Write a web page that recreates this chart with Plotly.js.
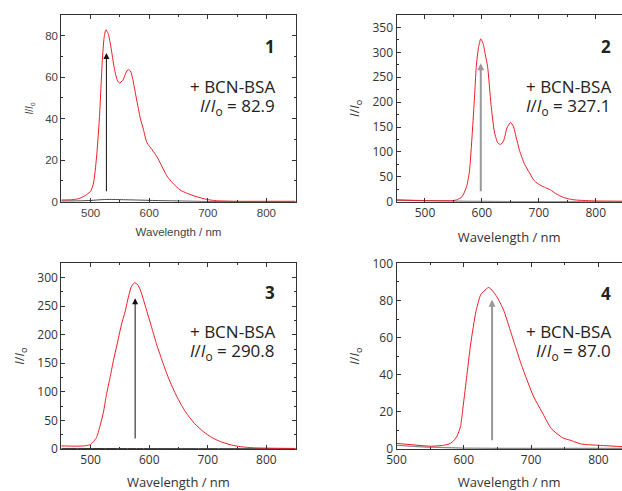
<!DOCTYPE html>
<html>
<head>
<meta charset="utf-8">
<script src="https://cdn.plot.ly/plotly-3.0.1.min.js"></script>
<style>html,body{margin:0;padding:0;background:#fff;overflow:hidden}</style>
</head>
<body>
<div id="chart" style="width:622px;height:491px"></div>
<script>
// ---------- data ----------
// Panel 1
const wl1Red = [450,470,480,490,495,500,505,510,515,520,523,526,530,535,540,545,549,555,560,564,568,572,578,585,590,596,605,613,620,630,640,653,665,680,698,710,720,750,800,850];
const i1Red  = [0.8,1.0,1.5,2.8,3.8,5,9,21,40,68,79,82.9,81,74,65,59,57.2,58.5,62,63.7,63,59,50,40,35,28.5,25,21.7,18,12.5,9,5.6,4,2.5,1.1,0.6,0.4,0.2,0.2,0.2];
const wl1Base = [450,480,500,520,535,550,580,620,660,700,850];
const i1Base  = [0.3,0.4,0.6,1.0,1.1,1.0,0.8,0.5,0.3,0.1,0.05];
// Panel 2
const wl2Red = [450,480,520,545,555,565,573,578,583,587,590,594,598,602,606,610,616,622,628,633,638,644,650,655,660,666,675,684,692,702,712,720,730,743,755,766,800,850];
const i2Red  = [3.5,2.5,1.8,2,3.5,10,30,60,137,210,270,310,327.1,318,295,271,195,140,118,115,122,148,159,152,130,103,75,57,42,33.5,28,24,16,8.7,5,3.3,1.5,1];
const wl2Base = [450,500,550,600,700,850];
const i2Base  = [3,2,1,0.5,0.3,0.3];
// Panel 3
const wl3Red = [450,470,490,500,505,510,516,522,527,533,539,545,552,559,565,570,575,580,585,590,596,605,613,623,633,647,662,677,693,707,722,740,756,780,800,850];
const i3Red  = [5.5,5,5.5,8,13,20,40,65,95,124,155,182,215,241,268,285,290.8,288,278,262,241,210,182,152,124,92,65,45,30,20,12.8,7,4,2,1.5,1];
const wl3Base = [450,600,850];
const i3Base  = [1,0.7,0.5];
// Panel 4
const wl4Red = [500,520,550,570,580,585,590,595,598,604,610,618,625,630,637,643,649,655,660,668,676,684,693,704,716,730,747,760,774,800,835,850];
const i4Red  = [3,2.4,1.5,2,3,4.5,7,12,20,38,56,74,83,85,87,85,82,78,74,65,56,47,38,28,20,11,6,4.5,2.7,2,1.3,1];
const wl4Base = [500,550,600,700,850];
const i4Base  = [2,1,0.5,0.3,0.3];
// arrows: [x, yStart, yEnd]
const arrow1 = [527, 4.3, 71.7];
const arrow2 = [598, 18, 278];
const arrow3 = [576, 15.8, 264];
const arrow4 = [642, 3.9, 80.4];
// labels
const panelLabels = ["1","2","3","4"];
const ratios = ["82.9","327.1","290.8","87.0"];
const reagent = "+ BCN-BSA";
const xTitle = "Wavelength / nm";
const yTitle = "<i>I</i>/<i>I</i><sub>o</sub>";

// ---------- traces ----------
const RED = "#ee1c25";
function line(x, y, xa, ya, color, w) {
  return {x: x, y: y, xaxis: xa, yaxis: ya, type: "scatter", mode: "lines",
          line: {color: color, width: w, shape: "spline", smoothing: 0.6},
          hoverinfo: "skip", showlegend: false};
}
const traces = [
  line(wl1Base, i1Base, "x", "y", "#444", 1),
  line(wl1Red, i1Red, "x", "y", RED, 1),
  line(wl2Base, i2Base, "x2", "y2", "#777", 1.2),
  line(wl2Red, i2Red, "x2", "y2", RED, 1),
  line(wl3Base, i3Base, "x3", "y3", "#333", 1),
  line(wl3Red, i3Red, "x3", "y3", RED, 1),
  line(wl4Base, i4Base, "x4", "y4", "#888", 1.2),
  line(wl4Red, i4Red, "x4", "y4", RED, 1)
];

// ---------- layout ----------
const W = 622, H = 491;
const px = v => v / W, py = v => 1 - v / H;
const fA = {family: "Liberation Sans, Arial, sans-serif", size: 11.5, color: "#444"};
const fB = {family: "Open Sans, sans-serif", size: 12, color: "#333"};

function xax(dom, range, font, titleSize, standoff, mirror) {
  return {domain: dom, range: range, dtick: 100, tick0: 0, ticks: "inside", ticklen: 4,
    tickcolor: "#333", tickwidth: 1, showline: true, linecolor: "#333", linewidth: 1,
    mirror: mirror, showgrid: false, zeroline: false, tickfont: font,
    minor: {dtick: 50, tick0: 0, ticks: "inside", ticklen: 2, tickcolor: "#333"},
    title: {text: xTitle, font: {family: font.family, size: titleSize, color: font.color}, standoff: standoff},
    fixedrange: true};
}
function yax(dom, range, dt, mdt, font, titleSize, standoff, mirror, anchor) {
  return {domain: dom, range: range, dtick: dt, tick0: 0, ticks: "inside", ticklen: 4,
    tickcolor: "#333", tickwidth: 1, showline: true, linecolor: "#333", linewidth: 1,
    mirror: mirror, showgrid: false, zeroline: false, tickfont: font, anchor: anchor,
    minor: {dtick: mdt, tick0: 0, ticks: "inside", ticklen: 2, tickcolor: "#333"},
    title: {text: yTitle, font: {family: font.family, size: titleSize, color: font.color}, standoff: standoff},
    fixedrange: true};
}
const dx1 = [px(61.3), px(295.7)], dx2 = [px(396.5), 1];
const dyT = [py(201.7), py(15)], dyB = [py(449), py(263.3)];

const layout = {
  width: W, height: H, margin: {l: 0, r: 0, t: 0, b: 0},
  paper_bgcolor: "#fff", plot_bgcolor: "#fff", showlegend: false,
  xaxis:  Object.assign(xax(dx1, [450, 850], fA, 11.5, 10, "ticks"), {anchor: "y"}),
  yaxis:  yax(dyT, [0, 90], 20, 10, fA, 10, 9, "ticks", "x"),
  xaxis2: Object.assign(xax(dx2, [450, 846], fB, 13, 12, "ticks"), {anchor: "y2"}),
  yaxis2: yax(dyT, [0, 375], 50, 25, fB, 13, 9, false, "x2"),
  xaxis3: Object.assign(xax(dx1, [450, 850], fB, 13, 17, "ticks"), {anchor: "y3"}),
  yaxis3: yax(dyB, [0, 325], 50, 25, fB, 13, 9, "ticks", "x3"),
  xaxis4: Object.assign(xax(dx2, [500, 835], fB, 13, 17, "ticks"), {anchor: "y4"}),
  yaxis4: yax(dyB, [0, 100], 20, 10, fB, 13, 9, false, "x4"),
  annotations: []
};

const arrows = [[arrow1, "x", "y", "#111", 1], [arrow2, "x2", "y2", "#999", 2],
                [arrow3, "x3", "y3", "#111", 1], [arrow4, "x4", "y4", "#999", 2]];
arrows.forEach(a => {
  layout.annotations.push({xref: a[1], yref: a[2], axref: a[1], ayref: a[2],
    x: a[0][0], y: a[0][2], ax: a[0][0], ay: a[0][1], text: "", showarrow: true,
    arrowhead: 2, arrowsize: a[4] > 1 ? 0.7 : 1.2, arrowwidth: a[4], arrowcolor: a[3]});
});

const txtFont = {family: "Open Sans, sans-serif", size: 17, color: "#222"};
const lab = [
  {r: 277, yn: 47, yb: 86, yv: 106},
  {r: 613, yn: 46, yb: 86, yv: 106},
  {r: 277, yn: 292, yb: 331, yv: 351},
  {r: 613, yn: 293, yb: 331, yv: 351}
];
lab.forEach((L, k) => {
  layout.annotations.push({xref: "paper", yref: "paper", x: px(L.r), y: py(L.yn), xanchor: "right", yanchor: "middle",
    text: "<b>" + panelLabels[k] + "</b>", showarrow: false, font: txtFont});
  layout.annotations.push({xref: "paper", yref: "paper", x: px(L.r), y: py(L.yb), xanchor: "right", yanchor: "middle",
    text: reagent, showarrow: false, font: txtFont});
  layout.annotations.push({xref: "paper", yref: "paper", x: px(L.r), y: py(L.yv), xanchor: "right", yanchor: "middle",
    text: yTitle + " = " + ratios[k], showarrow: false, font: txtFont});
});

Plotly.newPlot("chart", traces, layout, {staticPlot: true, displayModeBar: false});
</script>
</body>
</html>
